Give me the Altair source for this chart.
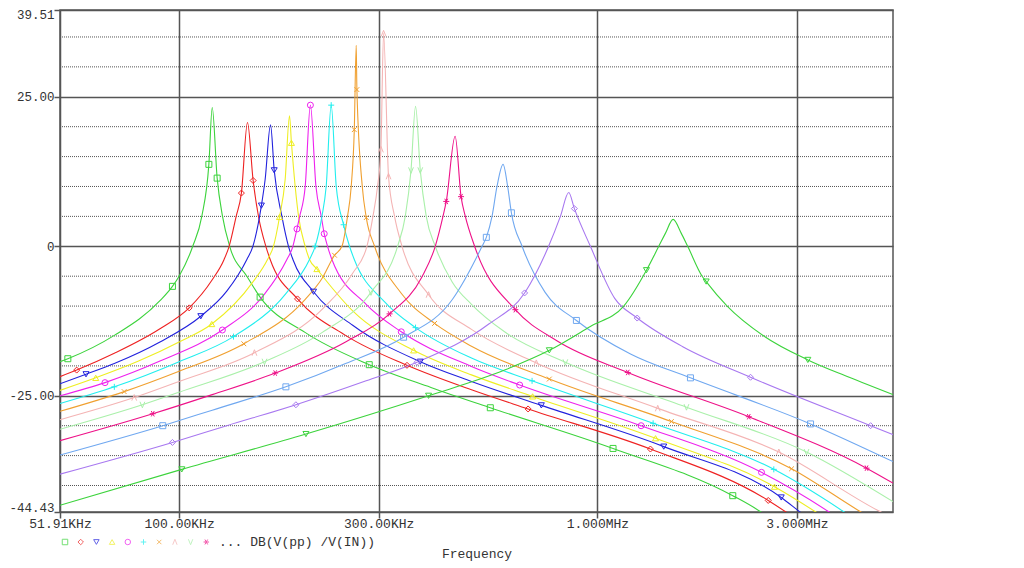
import altair as alt
import pandas as pd

FONT = "Liberation Mono"

SERIES = ["s01", "s02", "s03", "s04", "s05", "s06", "s07", "s08", "s09", "s10", "s11", "s12", "s13"]
LINE_COLORS = ["#3cd33c", "#ee2222", "#2222dd", "#eeee22", "#ee22ee", "#22eeee", "#f0a030",
               "#f4b4b4", "#aaf0aa", "#ee1188", "#70a8f0", "#a878f0", "#3cd33c"]
MARKER_SHAPES = ["square", "diamond", "triangle-down", "triangle-up", "circle",
                 "M-1,0L1,0M0,-1L0,1",
                 "M-0.8,-0.8L0.8,0.8M-0.8,0.8L0.8,-0.8",
                 "M-0.8,1L0,-1L0.8,1",
                 "M-0.8,-1L0,1L0.8,-1",
                 "M-1,0L1,0M-0.5,-0.9L0.5,0.9M-0.5,0.9L0.5,-0.9",
                 "square", "diamond", "triangle-down"]

X_TICKS = [51.91, 100, 300, 1000, 3000]
X_TICK_LABELS = ["51.91KHz", "100.00KHz", "300.00KHz", "1.000MHz", "3.000MHz"]
Y_TICKS = [-44.43, -25, 0, 25, 39.51]
Y_TICK_LABELS = ["-44.43", "-25.00", "0", "25.00", "39.51"]
Y_MINOR = [35, 30, 20, 15, 10, 5, -5, -10, -15, -20, -30, -35, -40]
X_DOMAIN = [51.91, 5090]
Y_DOMAIN = [-44.43, 39.51]
LEGEND_TITLE = "... DB(V(pp) /V(IN))"
X_TITLE = "Frequency"

# frequency in kHz, magnitude in dB, marker indices
F01 = [51.91, 54.2, 70, 90, 96.4, 100, 107.8, 113.3, 117.8, 120, 123.3, 127.0, 132.1, 145.2, 156.2, 200, 284.8, 400, 554.6, 1090, 2107, 2455, 2700]
D01 = [-19.3, -18.8, -14.9, -9.1, -6.7, -5.0, 0.0, 5.0, 13.7, 23.2, 11.4, 5.0, 0.0, -5.0, -8.5, -14.4, -19.8, -23.6, -27.0, -33.8, -41.7, -44.4, -46.6]
M01 = [1, 4, 8, 10, 14, 16, 18, 19, 20]

F02 = [51.91, 56.9, 70, 90, 105.7, 120, 128.1, 131.7, 136.9, 140.9, 145.7, 150.3, 154.8, 161.2, 165.1, 191.9, 250, 350.6, 500, 682.8, 1339, 2561, 2818, 3100]
D02 = [-21.8, -20.7, -17.9, -13.8, -10.3, -5.6, -2.2, 0.0, 5.0, 8.9, 20.7, 11.0, 5.0, 0.0, -2.2, -8.8, -14.9, -19.9, -24.0, -27.2, -33.9, -42.5, -44.4, -46.5]
M02 = [1, 4, 9, 11, 15, 17, 19, 20, 21]

F03 = [51.91, 59.9, 70, 90, 112.7, 130, 145.2, 150.1, 157.3, 160.6, 165.4, 168.8, 176.1, 182.6, 187.1, 209.6, 260, 377.2, 500, 734.5, 1441, 2751, 3048, 3300]
D03 = [-23.0, -21.4, -19.6, -16.0, -11.7, -7.5, -2.2, 0.0, 6.8, 11.2, 20.3, 12.7, 5.0, 0.0, -2.2, -7.6, -13.2, -19.3, -22.6, -26.6, -33.5, -42.0, -44.4, -46.2]
M03 = [1, 4, 8, 11, 15, 17, 19, 20, 21]

F04 = [51.91, 63.2, 80, 100, 119.7, 150, 162.7, 168.1, 173.8, 179.3, 183.6, 185.6, 193.0, 200.2, 205.0, 213.5, 260, 363.6, 500, 700, 1377, 2651, 3323, 3600]
D04 = [-24.1, -22.0, -19.2, -16.0, -13.0, -6.0, -2.2, 0.0, 4.9, 11.2, 21.8, 17.3, 5.0, 0.0, -2.2, -3.8, -10.8, -17.4, -21.5, -25.1, -32.1, -40.2, -44.4, -46.0]
M04 = [1, 4, 8, 11, 15, 17, 19, 20, 21]

F05 = [51.91, 66.5, 90, 126.9, 160, 181, 187.1, 191.3, 194.2, 200.2, 206, 212.4, 218.7, 222.3, 226.4, 231.9, 280, 339.7, 500, 651.9, 1272, 2468, 3575, 3900]
D05 = [-25.0, -22.8, -19.2, -14.0, -8.0, -2.2, 0.0, 2.9, 5.0, 10.0, 23.6, 10.0, 5.0, 2.1, 0.0, -2.2, -9.7, -14.3, -20.1, -23.2, -30.0, -37.8, -44.4, -46.2]
M05 = [1, 3, 7, 10, 13, 17, 19, 20, 21]

F06 = [51.91, 70, 100, 134.9, 180, 205.0, 211.5, 219.5, 224.7, 231, 237.5, 247.3, 255.5, 262.3, 310, 367.5, 500, 698, 1359, 2641, 3884, 4200]
D06 = [-26.3, -23.5, -19.3, -15.1, -7.9, -2.2, 0.0, 5.0, 10.0, 23.6, 10.0, 3.6, 0.0, -2.2, -9.3, -13.6, -18.7, -22.5, -29.6, -37.3, -44.4, -46.0]
M06 = [1, 3, 6, 9, 11, 15, 17, 18, 19]

F07 = [51.91, 73.9, 100, 142.8, 200, 220, 235.3, 245.1, 252.7, 257.9, 262.3, 265.1, 266.1, 274.1, 280.2, 293.3, 340, 408.1, 500, 767.5, 1503, 2912, 4258, 4600]
D07 = [-27.6, -24.3, -20.9, -16.3, -8.9, -5.3, -1.5, 0.0, 5.0, 10.0, 19.5, 33.6, 26.2, 10.0, 4.8, 0.0, -7.9, -12.9, -16.7, -22.2, -29.3, -37.2, -44.4, -45.8]
M07 = [1, 3, 6, 10, 12, 14, 17, 19, 20, 21]

F08 = [51.91, 78.1, 100, 151.4, 220, 260, 281.2, 290.7, 298.1, 303.7, 308.2, 316.7, 327.4, 341.1, 394.8, 500, 714.5, 1394, 2715, 4753, 5080]
D08 = [-29.0, -25.3, -22.6, -17.8, -10.5, -4.5, 0.0, 5.0, 10.0, 16.2, 35.6, 11.7, 5.0, 0.0, -8.1, -13.9, -19.5, -27.1, -34.4, -44.4, -45.4]
M08 = [1, 3, 9, 10, 11, 14, 16, 17, 18]

F09 = [51.91, 81.7, 100, 160, 220, 287.5, 332.9, 347.3, 358.4, 367.5, 377.2, 389.8, 409.6, 450, 500, 600, 838.4, 1633, 3162, 5090]
D09 = [-30.6, -26.5, -24.4, -19.3, -14.4, -7.7, 0.0, 5.0, 12.7, 23.4, 12.7, 5.0, 0.0, -6.0, -9.7, -14.3, -19.4, -26.9, -34.4, -42.7]
M09 = [1, 3, 5, 8, 10, 16, 17, 18]

F10 = [51.91, 86.5, 120, 169.7, 250, 318.5, 380, 409.6, 427.4, 435.2, 457, 472.1, 483.4, 508.7, 636.7, 800, 1182, 2301, 4400, 5090]
D10 = [-32.5, -28.0, -24.8, -21.2, -16.0, -11.3, -5.2, 0.0, 5.0, 7.5, 18.4, 8.3, 5.0, 0.0, -10.6, -15.8, -21.1, -28.5, -37.1, -39.6]
M10 = [1, 3, 5, 9, 11, 14, 16, 17, 18]

F11 = [51.91, 91.4, 120, 180, 250, 344.1, 450, 530, 542.6, 559.9, 575.4, 595, 610.2, 622.9, 660.7, 750, 890.9, 1200, 1669, 3233, 5090]
D11 = [-34.9, -30.0, -27.4, -23.5, -19.6, -15.2, -8.9, 0.0, 1.5, 5.0, 10.0, 13.7, 10.0, 5.6, 0.0, -7.7, -12.4, -18.0, -22.0, -29.7, -36.0]
M11 = [1, 3, 5, 8, 13, 16, 18, 19]

F12 = [51.91, 96.4, 130, 190.2, 280, 370.4, 550, 669.9, 764.5, 815.7, 854, 881, 962.2, 1100, 1245, 1600, 2323, 4500, 5090]
D12 = [-38.1, -32.8, -30.0, -26.5, -22.5, -19.4, -13.0, -7.8, 0.0, 5.0, 9.0, 6.3, 0.0, -8.7, -12.0, -16.8, -21.9, -30.0, -31.5]
M12 = [1, 3, 5, 7, 11, 14, 16, 17]

F13 = [51.91, 101.5, 201, 394.8, 600, 767.5, 962, 1156, 1310, 1402, 1455, 1517, 1586, 1644, 1780, 1820, 2043, 2499, 3185, 4000, 5090]
D13 = [-43.3, -37.3, -31.4, -25.0, -20.7, -17.4, -13.4, -10.0, -4.0, 0.0, 2.2, 4.5, 2.2, 0.0, -5.0, -5.9, -10.0, -15.0, -19.0, -21.9, -24.8]
M13 = [1, 2, 3, 5, 8, 15, 18]

CURVES = [(F01, D01, M01), (F02, D02, M02), (F03, D03, M03), (F04, D04, M04),
          (F05, D05, M05), (F06, D06, M06), (F07, D07, M07), (F08, D08, M08),
          (F09, D09, M09), (F10, D10, M10), (F11, D11, M11), (F12, D12, M12),
          (F13, D13, M13)]

line_rows, mark_rows = [], []
for name, (fs, ds, mk) in zip(SERIES, CURVES):
    for i, (fv, dv) in enumerate(zip(fs, ds)):
        line_rows.append({"series": name, "idx": i, "freq": fv, "db": dv})
    for i in mk:
        mark_rows.append({"series": name, "freq": fs[i], "db": ds[i]})

lines_df = pd.DataFrame(line_rows)
marks_df = pd.DataFrame(mark_rows)
marks_a = marks_df[marks_df["series"].isin(SERIES[:10])]
marks_b = marks_df[marks_df["series"].isin(SERIES[10:])]
minor_df = pd.DataFrame({"db": Y_MINOR})


def lookup_expr(vals, labels):
    return ("[" + ",".join("'" + l + "'" for l in labels) + "][indexof(["
            + ",".join(str(v) for v in vals) + "], datum.value)]")


GRID = "#555555"

x_enc = alt.X("freq:Q",
              scale=alt.Scale(type="log", domain=X_DOMAIN, nice=False),
              axis=alt.Axis(values=X_TICKS, labelExpr=lookup_expr(X_TICKS, X_TICK_LABELS),
                            grid=True, gridColor=GRID, gridWidth=1.5, gridOpacity=1,
                            domain=False, ticks=True, tickColor=GRID, tickSize=6, tickWidth=1.5,
                            labelFont=FONT, labelFontSize=13, labelColor="#333333",
                            labelBaseline="middle", labelPadding=5, labelFlush=False,
                            labelOverlap=False, title=X_TITLE, titleFont=FONT,
                            titleFontSize=13, titleFontWeight="normal", titleColor="#333333",
                            titleY=41, titleBaseline="middle"))
y_enc = alt.Y("db:Q",
              scale=alt.Scale(domain=Y_DOMAIN, nice=False, zero=False),
              axis=alt.Axis(values=Y_TICKS, labelExpr=lookup_expr(Y_TICKS, Y_TICK_LABELS),
                            grid=True, gridColor=GRID, gridWidth=1.5, gridOpacity=1,
                            domain=False, ticks=True, tickColor=GRID, tickSize=6, tickWidth=1.5,
                            labelFont=FONT, labelFontSize=12.5, labelColor="#333333",
                            labelPadding=0, labelFlush=True, labelFlushOffset=2,
                            labelOverlap=False, title=None))

minor = alt.Chart(minor_df).mark_rule(color="#555555", strokeWidth=1, strokeDash=[1, 1]).encode(
    y=y_enc
)

lines = alt.Chart(lines_df).mark_line(strokeWidth=1.1, interpolate="monotone", clip=True).encode(
    x=x_enc, y=y_enc,
    color=alt.Color("series:N", scale=alt.Scale(domain=SERIES, range=LINE_COLORS), legend=None),
    order=alt.Order("idx:Q"),
)

pts_a = alt.Chart(marks_a).mark_point(filled=False, size=36, strokeWidth=1, opacity=1, clip=True).encode(
    x=x_enc, y=y_enc,
    color=alt.Color("series:N", scale=alt.Scale(domain=SERIES[:10], range=LINE_COLORS[:10]),
                    legend=alt.Legend(title=LEGEND_TITLE, titleOrient="right", orient="none",
                                      legendX=0, legendY=527, direction="horizontal",
                                      columns=10, labelExpr="''", labelOffset=0,
                                      columnPadding=5.7, symbolSize=30, symbolStrokeWidth=1,
                                      symbolOpacity=0.7, padding=0, titlePadding=8,
                                      titleFont=FONT, titleFontSize=13, titleFontWeight="normal",
                                      titleColor="#333333", titleBaseline="middle")),
    shape=alt.Shape("series:N", scale=alt.Scale(domain=SERIES[:10], range=MARKER_SHAPES[:10])),
)

pts_b = alt.Chart(marks_b).mark_point(filled=False, size=36, strokeWidth=1, opacity=1, clip=True).encode(
    x=x_enc, y=y_enc,
    color=alt.Color("series:N", scale=alt.Scale(domain=SERIES[10:], range=LINE_COLORS[10:]), legend=None),
    shape=alt.Shape("series:N", scale=alt.Scale(domain=SERIES[10:], range=MARKER_SHAPES[10:]), legend=None),
)

chart = alt.layer(minor, lines, pts_a, pts_b).resolve_scale(
    color="independent", shape="independent"
).properties(
    width=833, height=502,
    autosize=alt.AutoSizeParams(type="none"),
    padding={"left": 52, "top": 2, "right": 20, "bottom": 50},
    background="white",
).configure_view(stroke=GRID, strokeWidth=1.5)

chart.save("out.html", embed_options={"renderer": "svg", "actions": False})
